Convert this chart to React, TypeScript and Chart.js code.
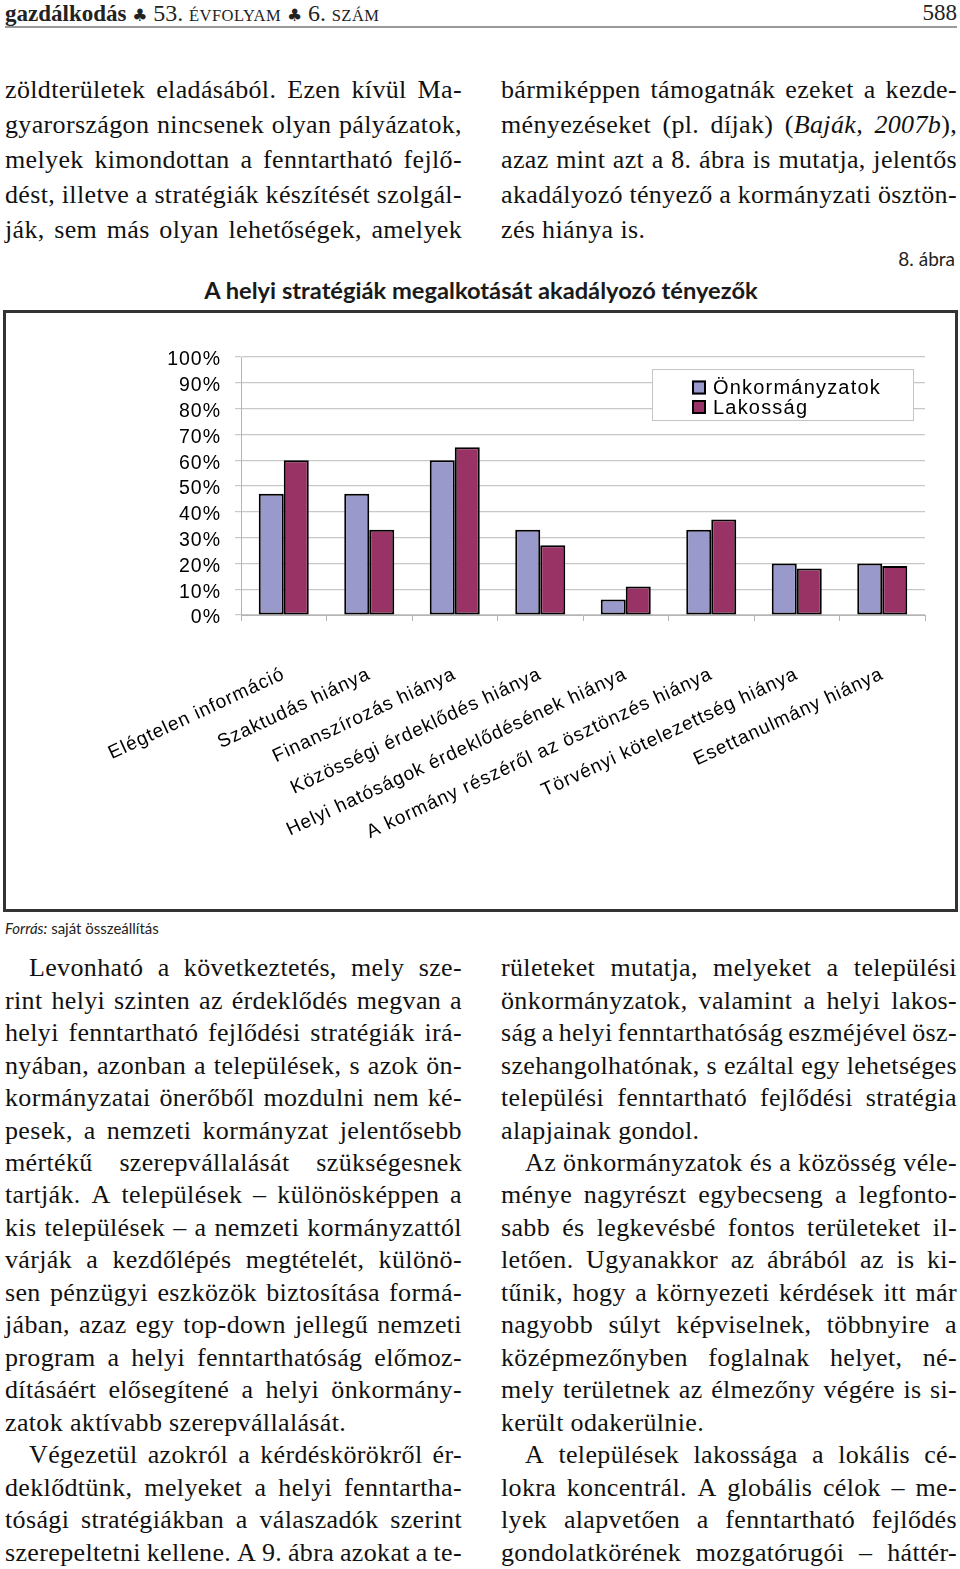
import React, { useEffect, useRef } from "react";
import { Chart, registerables } from "chart.js";

Chart.register(...registerables);

// ---- chart data ----
const categories = [
  "Elégtelen információ",
  "Szaktudás hiánya",
  "Finanszírozás hiánya",
  "Közösségi érdeklődés hiánya",
  "Helyi hatóságok érdeklődésének hiánya",
  "A kormány részéről az ösztönzés hiánya",
  "Törvényi kötelezettség hiánya",
  "Esettanulmány hiánya",
];
const seriesNames = ["Önkormányzatok", "Lakosság"];
const onkormanyzatok = [47, 47, 60, 33, 6, 33, 20, 20];
const lakossag = [60, 33, 65, 27, 11, 37, 18, 19];
const yTickSuffix = "%";

// ---- page text ----
const topLeft = [
  "zöldterületek eladásából. Ezen kívül Ma-",
  "gyarországon nincsenek olyan pályázatok,",
  "melyek kimondottan a fenntartható fejlő-",
  "dést, illetve a stratégiák készítését szolgál-",
  "ják, sem más olyan lehetőségek, amelyek",
];
const topRight = [
  "bármiképpen támogatnák ezeket a kezde-",
  "ményezéseket (pl. díjak) (_Baják,_ _2007b_),",
  "azaz mint azt a 8. ábra is mutatja, jelentős",
  "akadályozó tényező a kormányzati ösztön-",
  "zés hiánya is.|",
];
const bottomLeft = [
  ">Levonható a következtetés, mely sze-",
  "rint helyi szinten az érdeklődés megvan a",
  "helyi fenntartható fejlődési stratégiák irá-",
  "nyában, azonban a települések, s azok ön-",
  "kormányzatai önerőből mozdulni nem ké-",
  "pesek, a nemzeti kormányzat jelentősebb",
  "mértékű szerepvállalását szükségesnek",
  "tartják. A települések – különösképpen a",
  "kis települések – a nemzeti kormányzattól",
  "várják a kezdőlépés megtételét, különö-",
  "sen pénzügyi eszközök biztosítása formá-",
  "jában, azaz egy top-down jellegű nemzeti",
  "program a helyi fenntarthatóság előmoz-",
  "dításáért elősegítené a helyi önkormány-",
  "zatok aktívabb szerepvállalását.|",
  ">Végezetül azokról a kérdéskörökről ér-",
  "deklődtünk, melyeket a helyi fenntartha-",
  "tósági stratégiákban a válaszadók szerint",
  "szerepeltetni kellene. A 9. ábra azokat a te-",
];
const bottomRight = [
  "rületeket mutatja, melyeket a települési",
  "önkormányzatok, valamint a helyi lakos-",
  "ság a helyi fenntarthatóság eszméjével ösz-",
  "szehangolhatónak, s ezáltal egy lehetséges",
  "települési fenntartható fejlődési stratégia",
  "alapjainak gondol.|",
  ">Az önkormányzatok és a közösség véle-",
  "ménye nagyrészt egybecseng a legfonto-",
  "sabb és legkevésbé fontos területeket il-",
  "letően. Ugyanakkor az ábrából az is ki-",
  "tűnik, hogy a környezeti kérdések itt már",
  "nagyobb súlyt képviselnek, többnyire a",
  "középmezőnyben foglalnak helyet, né-",
  "mely területnek az élmezőny végére is si-",
  "került odakerülnie.|",
  ">A települések lakossága a lokális cé-",
  "lokra koncentrál. A globális célok – me-",
  "lyek alapvetően a fenntartható fejlődés",
  "gondolatkörének mozgatórugói – háttér-",
];

const SERIF = '"Liberation Serif", "Times New Roman", serif';
const SANS = 'Lato, "Open Sans", sans-serif';
const CHART_FONT = '"Liberation Sans", Arial, sans-serif';

function TextLine(props: { raw: string; left: number; width: number; top: number }) {
  let raw = props.raw;
  let indent = 0;
  let justify = true;
  if (raw.startsWith(">")) {
    indent = 24;
    raw = raw.slice(1);
  }
  if (raw.endsWith("|")) {
    justify = false;
    raw = raw.slice(0, -1);
  }
  const words = raw.split(" ");
  let italic = false;
  const parts = words.map((w, i) => {
    const segs = w.split("_");
    const nodes = segs.map((s, j) => {
      if (j > 0) italic = !italic;
      return s ? (
        <span key={j} style={{ fontStyle: italic ? "italic" : "normal" }}>
          {s}
        </span>
      ) : null;
    });
    return (
      <span key={i} style={{ whiteSpace: "nowrap", flexShrink: 0 }}>
        {nodes}
        {!justify && i < words.length - 1 ? " " : null}
      </span>
    );
  });
  return (
    <div
      style={{
        position: "absolute",
        left: props.left,
        top: props.top,
        width: props.width,
        paddingLeft: indent,
        boxSizing: "border-box",
        display: justify ? "flex" : "block",
        justifyContent: "space-between",
        whiteSpace: "nowrap",
        fontFamily: SERIF,
        fontSize: 26,
        letterSpacing: "0.35px",
        lineHeight: "32px",
        height: 32,
        color: "#111",
      }}
    >
      {parts}
    </div>
  );
}

function Column(props: { lines: string[]; left: number; width: number; baseline0: number; step: number }) {
  return (
    <>
      {props.lines.map((l, i) => (
        <TextLine key={i} raw={l} left={props.left} width={props.width} top={props.baseline0 + i * props.step - 24.8} />
      ))}
    </>
  );
}

const letterSpacingPlugin = {
  id: "letterSpacingPlugin",
  beforeUpdate(chart: any) {
    chart.ctx.letterSpacing = "1px";
  },
  beforeLayout(chart: any) {
    chart.ctx.letterSpacing = "1px";
  },
  beforeDraw(chart: any) {
    chart.ctx.letterSpacing = "1px";
  },
};

const boxLegendPlugin = {
  id: "boxLegendPlugin",
  afterDraw(chart: any) {
    const { ctx, chartArea } = chart;
    const w = 262;
    const h = 52;
    const x = chartArea.right - 11 - w;
    const y = chartArea.top + 12;
    ctx.save();
    ctx.fillStyle = "#ffffff";
    ctx.fillRect(x, y, w, h);
    ctx.strokeStyle = "#c4c4c4";
    ctx.lineWidth = 1;
    ctx.strokeRect(x + 0.5, y + 0.5, w - 1, h - 1);
    ctx.beginPath();
    ctx.rect(x + 1, y + 1, w - 2, h - 2);
    ctx.clip();
    chart.data.datasets.forEach((ds: any, i: number) => {
      const cy = y + 18.5 + i * 19.5;
      ctx.fillStyle = ds.backgroundColor;
      ctx.fillRect(x + 40, cy - 7, 14, 14);
      ctx.strokeStyle = "#000";
      ctx.lineWidth = 2;
      ctx.strokeRect(x + 41, cy - 6, 12, 12);
      ctx.fillStyle = "#000";
      ctx.font = `20px ${CHART_FONT}`;
      ctx.letterSpacing = "1.2px";
      ctx.textBaseline = "middle";
      ctx.textAlign = "left";
      ctx.fillText(ds.label, x + 61, cy + 1);
    });
    ctx.restore();
  },
};

function BarChart() {
  const ref = useRef<HTMLCanvasElement | null>(null);
  useEffect(() => {
    if (!ref.current) return;
    const chart = new Chart(ref.current, {
      type: "bar",
      data: {
        labels: categories,
        datasets: [
          {
            label: seriesNames[0],
            data: onkormanyzatok,
            backgroundColor: "#9999CC",
            borderColor: "#000000",
            borderWidth: 2,
            borderSkipped: false,
            barPercentage: 1,
            categoryPercentage: 0.585,
          },
          {
            label: seriesNames[1],
            data: lakossag,
            backgroundColor: "#993366",
            borderColor: "#000000",
            borderWidth: 2,
            borderSkipped: false,
            barPercentage: 1,
            categoryPercentage: 0.585,
          },
        ],
      },
      options: {
        animation: false,
        responsive: true,
        maintainAspectRatio: false,
        layout: { padding: { top: 44, right: 30, bottom: 0, left: 0 } },
        plugins: {
          legend: { display: false },
          title: { display: false },
          tooltip: { enabled: false },
        },
        scales: {
          x: {
            grid: {
              display: true,
              drawOnChartArea: false,
              drawTicks: true,
              tickLength: 6,
              color: "#b4b4b4",
              offset: true,
            },
            border: { display: true, color: "#b4b4b4", width: 1 },
            ticks: {
              autoSkip: false,
              maxRotation: 25,
              minRotation: 25,
              padding: 42,
              color: "#000",
              font: { family: CHART_FONT, size: 19 },
            },
            afterFit(scale: any) {
              scale.height = 294;
            },
          },
          y: {
            min: 0,
            max: 100,
            ticks: {
              stepSize: 10,
              autoSkip: false,
              padding: 14,
              labelOffset: 3,
              color: "#000",
              font: { family: CHART_FONT, size: 19.5, lineHeight: 1 },
              callback: (v: any) => v + yTickSuffix,
            },
            grid: { color: "#c8c8c8", tickLength: 6, drawTicks: true, lineWidth: 1.2 },
            border: { display: true, color: "#b4b4b4", width: 1 },
            afterFit(scale: any) {
              scale.width = 235;
            },
          },
        },
      },
      plugins: [letterSpacingPlugin, boxLegendPlugin],
    } as any);
    return () => chart.destroy();
  }, []);
  return (
    <div style={{ position: "absolute", left: 6, top: 313, width: 949, height: 596 }}>
      <canvas ref={ref} />
    </div>
  );
}

export default function App() {
  return (
    <div
      style={{
        position: "absolute",
        left: 0,
        top: 0,
        width: 960,
        height: 1569,
        overflow: "hidden",
        background: "#ffffff",
        color: "#1f1f1f",
      }}
    >
      {/* header */}
      <div
        style={{
          position: "absolute",
          left: 5,
          top: -1,
          fontFamily: SERIF,
          fontSize: 23,
          lineHeight: "28px",
          whiteSpace: "nowrap",
          color: "#222",
        }}
      >
        <span style={{ fontWeight: "bold" }}>gazdálkodás</span>{" "}
        <span style={{ fontFamily: '"DejaVu Sans", sans-serif', fontSize: 17 }}>♣</span>{" "}
        <span style={{ fontSize: 24 }}>53.</span>{" "}
        <span style={{ fontSize: 16.5, letterSpacing: "0.5px" }}>ÉVFOLYAM</span>{" "}
        <span style={{ fontFamily: '"DejaVu Sans", sans-serif', fontSize: 17 }}>♣</span>{" "}
        <span style={{ fontSize: 24 }}>6.</span>{" "}
        <span style={{ fontSize: 16.5, letterSpacing: "0.5px" }}>SZÁM</span>
      </div>
      <div
        style={{
          position: "absolute",
          right: 3,
          top: -1,
          fontFamily: SERIF,
          fontSize: 23,
          lineHeight: "28px",
          color: "#222",
        }}
      >
        588
      </div>
      <div style={{ position: "absolute", left: 5, top: 26, width: 952, height: 2, background: "#9a9a9a" }} />

      <Column lines={topLeft} left={5} width={457} baseline0={99} step={35} />
      <Column lines={topRight} left={501} width={456} baseline0={99} step={35} />

      <div
        style={{
          position: "absolute",
          right: 5,
          top: 248,
          fontFamily: SANS,
          fontSize: 19,
          lineHeight: "22px",
          color: "#222",
        }}
      >
        8. ábra
      </div>
      <div
        style={{
          position: "absolute",
          left: 0,
          width: 962,
          top: 276,
          textAlign: "center",
          fontFamily: SANS,
          fontWeight: "bold",
          fontSize: 23.7,
          lineHeight: "28px",
          color: "#1a1a1a",
        }}
      >
        A helyi stratégiák megalkotását akadályozó tényezők
      </div>

      <div
        style={{
          position: "absolute",
          left: 3,
          top: 310,
          width: 955,
          height: 602,
          border: "3px solid #333",
          boxSizing: "border-box",
        }}
      />
      <BarChart />

      <div
        style={{
          position: "absolute",
          left: 5,
          top: 919,
          fontFamily: SANS,
          fontSize: 15,
          lineHeight: "18px",
          color: "#222",
        }}
      >
        <span style={{ fontStyle: "italic" }}>Forrás:</span> saját összeállítás
      </div>

      <Column lines={bottomLeft} left={5} width={457} baseline0={977} step={32.47} />
      <Column lines={bottomRight} left={501} width={456} baseline0={977} step={32.47} />
    </div>
  );
}
